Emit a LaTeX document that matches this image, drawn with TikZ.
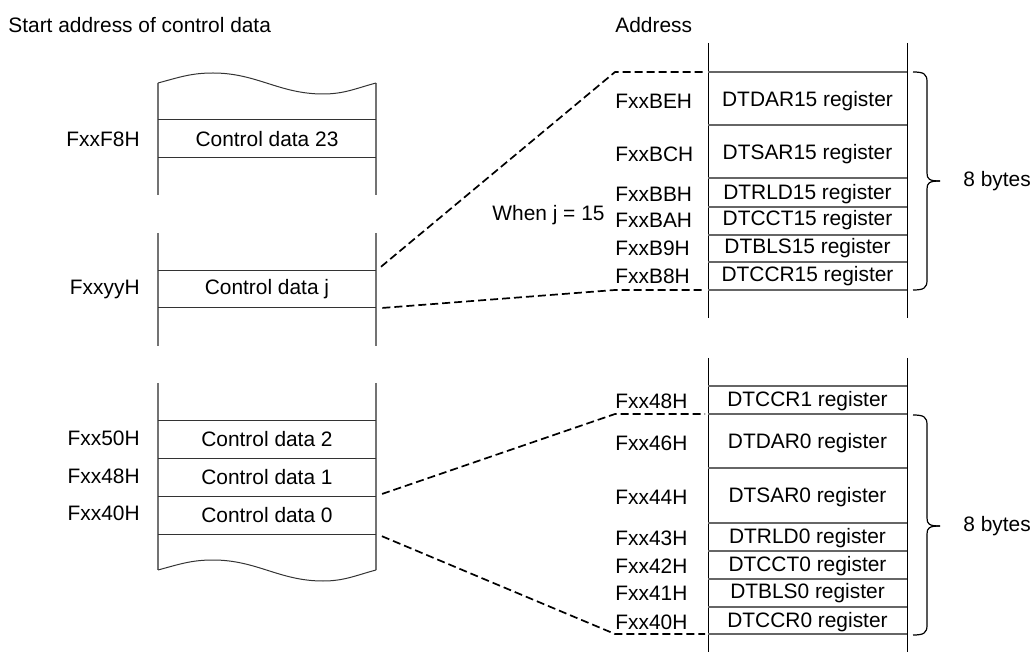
\documentclass[tikz,border=0pt]{standalone}
\usepackage{fontspec}
\setmainfont{Liberation Sans}
\usetikzlibrary{positioning,calc}

\begin{document}
\begin{tikzpicture}[x=0.5pt,y=-0.5pt,
    txt/.style={font=\fontsize{10.45}{12}\selectfont,inner sep=0pt},
    cell/.style={txt,minimum width=109pt,minimum height=18.5pt},
    addr/.style={txt,anchor=east},
    regaddr/.style={txt,anchor=west},
    wall/.style={draw=black!55,line width=0.8pt},
    rowline/.style={draw=black!80,line width=0.5pt},
    regwall/.style={draw=black,line width=0.5pt},
    regline/.style={draw=black!60,line width=0.6pt},
    link/.style={draw=black,line width=0.85pt,dash pattern=on 4pt off 2pt},
    bytes/.style={draw=black,line width=0.6pt}
  ]
  \useasboundingbox (0,0) rectangle (1033,657);

  \node[txt,anchor=west] (head) at (8,25) {Start address of control data};
  \node[txt,anchor=west] (headaddr) at (615,25) {Address};

  % control data area
  \draw[wall] (158,83) -- (158,195) (376,83) -- (376,195);
  \draw[wall] (158,233) -- (158,346) (376,233) -- (376,346);
  \draw[wall] (158,383) -- (158,570) (376,383) -- (376,570);
  \draw[rowline] (158,83) to[out=15,in=180] (213,73) to[out=0,in=180] (323,94)
    to[out=0,in=-165] (376,83);
  \draw[rowline] (158,570) to[out=15,in=180] (213,560) to[out=0,in=180] (323,581)
    to[out=0,in=-165] (376,570);
  \foreach \y in {120,158,271,308,421,458,496,534}
    \draw[rowline] (158,\y) -- (376,\y);

  \node[cell] (cd23) at (267,139) {Control data 23};
  \node[cell] (cdj) at (267,289.5) {Control data j};
  \node[cell] (cd2) at (267,439.5) {Control data 2};
  \node[cell] (cd1) at (267,477) {Control data 1};
  \node[cell] (cd0) at (267,515) {Control data 0};
  \node[addr] (aF8) at (140,139) {FxxF8H};
  \node[addr] (ayy) at (140,289.5) {FxxyyH};
  \node[addr] (a50) at (140,438) {Fxx50H};
  \node[addr] (a48) at (140,476) {Fxx48H};
  \node[addr] (a40) at (140,513) {Fxx40H};

  % register area
  \draw[regwall] (708,43) -- (708,318) (907,43) -- (907,318);
  \draw[regwall] (708,358) -- (708,652) (907,358) -- (907,652);
  \foreach \y in {72,125,178,207,235,262,290,386,414,468,523,551,579,607,634}
    \draw[regline] (708,\y) -- (907,\y);

  \foreach \y/\reg/\ad [count=\i] in {101/DTDAR15/FxxBEH,154/DTSAR15/FxxBCH,
      194/DTRLD15/FxxBBH,220/DTCCT15/FxxBAH,248/DTBLS15/FxxB9H,276/DTCCR15/FxxB8H}{
    \node[txt] (r15-\i) at (807.5,\y) {\reg\ register};
    \node[regaddr] (a15-\i) at (615,\y) {\ad};
  }
  \foreach \y/\reg/\ad [count=\i] in {401/DTCCR1/Fxx48H,443/DTDAR0/Fxx46H,
      497/DTSAR0/Fxx44H,538/DTRLD0/Fxx43H,566/DTCCT0/Fxx42H,593/DTBLS0/Fxx41H,
      622/DTCCR0/Fxx40H}{
    \node[txt] (r0-\i) at (807.5,\y) {\reg\ register};
    \node[regaddr] (a0-\i) at (615,\y) {\ad};
  }
  \node[txt,anchor=west] (when) at (492,215) {When j = 15};

  % dashed links
  \coordinate (top15) at (615,72);
  \coordinate (top15e) at (705,72);
  \coordinate (bot15) at (615,290);
  \coordinate (bot15e) at (705,290);
  \coordinate (top0) at (615,414);
  \coordinate (top0e) at (705,414);
  \coordinate (bot0) at (615,634);
  \coordinate (bot0e) at (705,634);
  \draw[link,shorten <=3pt] (cdj.north east) -- (top15) -- (top15e);
  \draw[link,shorten <=3pt] (cdj.south east) -- (bot15) -- (bot15e);
  \draw[link,shorten <=3pt] (cd1.south east) -- (top0) -- (top0e);
  \draw[link,shorten <=3pt] (cd0.south east) -- (bot0) -- (bot0e);

  % byte braces
  \draw[bytes] (913,72) .. controls (924,72) and (927,74) .. (927,82) -- (927,173)
    .. controls (927,179) and (929,181) .. (940,181);
  \draw[bytes] (913,290) .. controls (924,290) and (927,288) .. (927,280) -- (927,189)
    .. controls (927,183) and (929,181) .. (940,181);
  \node[txt,anchor=west] (b15) at (963,181) {8 bytes};
  \draw[bytes] (913,415) .. controls (924,415) and (927,417) .. (927,425) -- (927,518)
    .. controls (927,524) and (929,526) .. (940,526);
  \draw[bytes] (913,635) .. controls (924,635) and (927,633) .. (927,625) -- (927,534)
    .. controls (927,528) and (929,526) .. (940,526);
  \node[txt,anchor=west] (b0) at (963,526) {8 bytes};
\end{tikzpicture}
\end{document}
